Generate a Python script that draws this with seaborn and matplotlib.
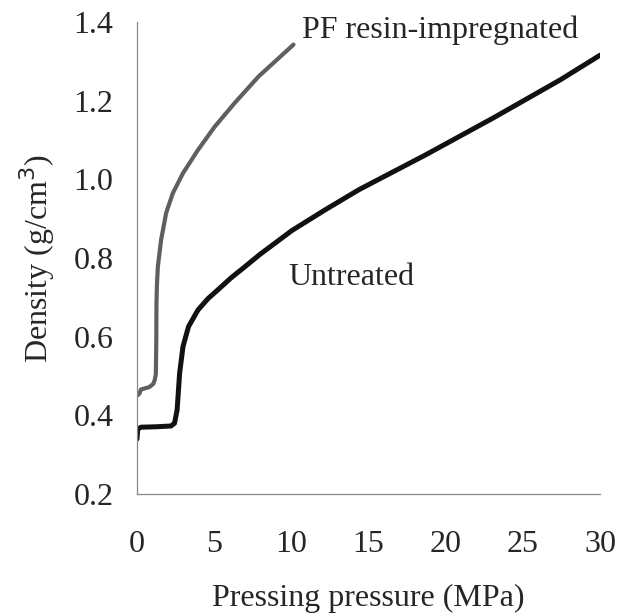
import numpy as np
import pandas as pd
import matplotlib
matplotlib.use("Agg")
import matplotlib.pyplot as plt
import seaborn as sns

# PF resin-impregnated curve
pf_pressure = [0.0, 0.15, 0.26, 0.8, 1.05, 1.15, 1.22, 1.25, 1.25, 1.26, 1.29, 1.35, 1.56, 1.89, 2.32, 2.98, 3.95, 5.03, 6.34, 7.88, 10.14]
pf_density = [0.45, 0.455, 0.466, 0.472, 0.48, 0.49, 0.505, 0.56, 0.62, 0.68, 0.73, 0.778, 0.846, 0.915, 0.965, 1.016, 1.075, 1.134, 1.195, 1.262, 1.343]

# Untreated curve
un_pressure = [0.0, 0.05, 0.26, 1.2, 2.2, 2.43, 2.6, 2.76, 2.98, 3.34, 3.95, 4.6, 5.26, 6.1, 6.99, 7.95, 8.94, 10.03, 12.2, 14.38, 18.72, 23.06, 27.41, 30.0]
un_density = [0.34, 0.365, 0.37, 0.371, 0.373, 0.38, 0.414, 0.507, 0.575, 0.626, 0.668, 0.697, 0.72, 0.75, 0.778, 0.809, 0.838, 0.87, 0.923, 0.974, 1.063, 1.156, 1.253, 1.316]

sns.set_style("white")
plt.rcParams['font.family'] = ['Liberation Serif', 'DejaVu Serif']

fig = plt.figure(figsize=(6.27, 6.16), dpi=100)
ax = fig.add_axes([0.2185, 0.198, 0.7385, 0.766])

df_pf = pd.DataFrame({"p": pf_pressure, "d": pf_density})
df_un = pd.DataFrame({"p": un_pressure, "d": un_density})
sns.lineplot(data=df_pf, x="p", y="d", sort=False, color="#5f5f61", lw=3.0, ax=ax)
sns.lineplot(data=df_un, x="p", y="d", sort=False, color="#111111", lw=3.6, ax=ax)

ax.set_xlim(0, 30)
ax.set_ylim(0.2, 1.4)
ax.set_xticks([0, 5, 10, 15, 20, 25, 30])
ax.set_yticks([0.2, 0.4, 0.6, 0.8, 1.0, 1.2, 1.4])
ax.set_yticklabels(["0.2", "0.4", "0.6", "0.8", "1.0", "1.2", "1.4"])
ax.tick_params(direction="in", length=6, width=0.8, color="#777777", labelsize=23)
ax.tick_params(axis="y", pad=17)
ax.tick_params(axis="x", pad=26)
for s in ["top", "right"]:
    ax.spines[s].set_visible(False)
for s in ["left", "bottom"]:
    ax.spines[s].set_color("#888888")
    ax.spines[s].set_linewidth(0.9)

ax.set_xlabel("Pressing pressure (MPa)", fontsize=23, labelpad=18)
ax.set_ylabel("Density (g/cm$^3$)", fontsize=23, labelpad=12)

ax.text(10.7, 1.38, "PF resin-impregnated", fontsize=23, ha="left", va="center")
ax.text(9.8, 0.75, "Untreated", fontsize=23, ha="left", va="center")

fig.savefig("out.png", dpi=100, facecolor="white")
